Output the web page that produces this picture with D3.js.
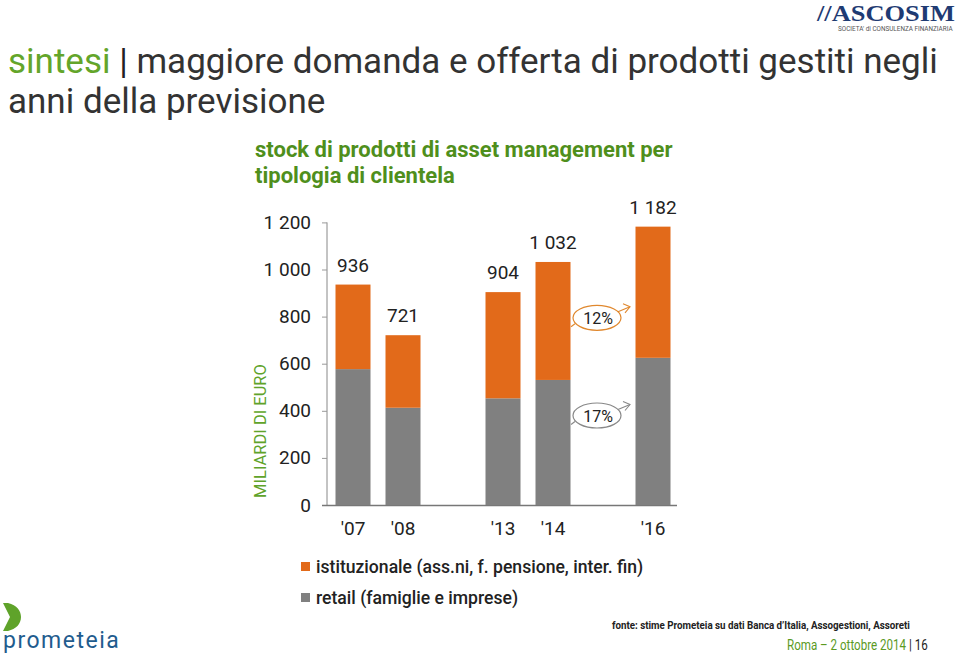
<!DOCTYPE html>
<html><head><meta charset="utf-8">
<script src="https://cdn.jsdelivr.net/npm/d3@7"></script>
<style>
html,body{margin:0;padding:0;background:#fff;}
svg{display:block;font-family:Roboto,"Noto Sans",sans-serif;}
</style></head>
<body>
<script>
// ---- data ----
const slots = ["'07","'08","gap1","'13","'14","gap2","'16"];
const categories = ["'07","'08","'13","'14","'16"];
const retail = [577, 413, 453, 531, 625];
const istituzionale = [359, 308, 451, 501, 557];
const totals = [936, 721, 904, 1032, 1182];
const totalLabels = ["936","721","904","1 032","1 182"];
const yTicks = [0,200,400,600,800,1000,1200];
const yTickLabels = ["0","200","400","600","800","1 000","1 200"];
const growth = [{label:"12%", series:"ist", at:795},{label:"17%", series:"ret", at:380}];
const seriesNames = ["istituzionale (ass.ni, f. pensione, inter. fin)","retail (famiglie e imprese)"];

const W=960,H=657;
const ORANGE="#e26a1a", GRAY="#808080", DARK="#222";
const svg=d3.select("body").append("svg").attr("width",W).attr("height",H);

// helper: horizontally condensed text via transform
function narrowText(parent,x0,y0,sx){
  return parent.append("g").attr("transform",`translate(${x0},${y0}) scale(${sx},1)`).append("text").attr("x",0).attr("y",0);
}

// ---- header ----
const t1=svg.append("text").attr("x",8).attr("y",73).attr("font-size",35).attr("fill","#333");
t1.append("tspan").attr("fill","#63a52a").text("sintesi");
t1.append("tspan").attr("fill","#222").text(" | ");
t1.append("tspan").text("maggiore domanda e offerta di prodotti gestiti negli");
svg.append("text").attr("x",8).attr("y",113).attr("font-size",35).attr("fill","#333").text("anni della previsione");
svg.append("text").attr("x",255).attr("y",157).attr("font-size",22).attr("font-weight",700).attr("fill","#4f8f1c").text("stock di prodotti di asset management per");
svg.append("text").attr("x",255).attr("y",183).attr("font-size",22).attr("font-weight",700).attr("fill","#4f8f1c").text("tipologia di clientela");

// ASCOSIM logo
narrowText(svg,817,21,1.1).attr("font-family","'Liberation Serif',serif").attr("font-weight",700).attr("font-size",24)
  .attr("fill","#1f3b73").text("//ASCOSIM");
narrowText(svg,838,31,0.98).attr("font-size",6.5).attr("fill","#555").text("SOCIETA' di CONSULENZA FINANZIARIA");

// ---- scales ----
const x=d3.scaleBand().domain(slots).range([328,678]).paddingInner(0.3).paddingOuter(0.15);
const y=d3.scaleLinear().domain([0,1200]).range([505,222.4]);

// y axis
const yAxis=d3.axisLeft(y).tickValues(yTicks).tickSize(5).tickPadding(11).tickFormat((d,i)=>yTickLabels[i]);
const ga=svg.append("g").attr("transform","translate(327,0)").call(yAxis);
ga.select(".domain").attr("stroke","#888").attr("d",`M0,${y(1200)}V${y(0)}`);
ga.selectAll(".tick line").attr("stroke","#999");
ga.selectAll(".tick text").attr("font-size",19).attr("fill",DARK).attr("font-family","Roboto,sans-serif");

// baseline
svg.append("line").attr("x1",322).attr("x2",677).attr("y1",y(0)+0.5).attr("y2",y(0)+0.5).attr("stroke","#777").attr("stroke-width",1.3);

// bars
const rows=categories.map((c,i)=>({c,ret:retail[i],ist:istituzionale[i],tot:totals[i],lab:totalLabels[i]}));
svg.append("g").selectAll("rect").data(rows).join("rect")
  .attr("x",d=>x(d.c)).attr("width",x.bandwidth())
  .attr("y",d=>y(d.ret)).attr("height",d=>y(0)-y(d.ret)).attr("fill",GRAY);
svg.append("g").selectAll("rect").data(rows).join("rect")
  .attr("x",d=>x(d.c)).attr("width",x.bandwidth())
  .attr("y",d=>y(d.tot)).attr("height",d=>y(d.ret)-y(d.tot)).attr("fill",ORANGE);
svg.append("g").selectAll("text").data(rows).join("text")
  .attr("x",d=>x(d.c)+x.bandwidth()/2).attr("y",d=>y(d.tot)-13)
  .attr("text-anchor","middle").attr("font-size",19).attr("fill",DARK).text(d=>d.lab);

// x labels
svg.append("g").selectAll("text").data(categories).join("text")
  .attr("x",d=>x(d)+x.bandwidth()/2).attr("y",535).attr("text-anchor","middle")
  .attr("font-size",19).attr("fill",DARK).text(d=>d);

// y title
svg.append("text").attr("transform",`translate(266,${431}) rotate(-90)`).attr("text-anchor","middle")
  .attr("font-size",16.5).attr("fill","#5fa32a").text("MILIARDI DI EURO");

// growth annotations
const gx=x("gap2")+x.bandwidth()/2-6;
growth.forEach(g=>{
  const col=g.series==="ist"?"#e0882e":"#888";
  const cy=y(g.at);
  const gg=svg.append("g");
  gg.append("ellipse").attr("cx",gx).attr("cy",cy).attr("rx",24).attr("ry",12.5).attr("fill","#fff").attr("stroke",col).attr("stroke-width",1.2);
  gg.append("path").attr("d",`M${gx+21},${cy-6} L${gx+33},${cy-11}`).attr("stroke",col).attr("fill","none").attr("stroke-width",1.1);
  gg.append("path").attr("d",`M${gx+26},${cy-14} L${gx+33},${cy-11} L${gx+28},${cy-5}`).attr("stroke",col).attr("fill","none").attr("stroke-width",1.1);
  gg.append("path").attr("d",`M${gx-22},${cy+6} L${gx-26},${cy+9}`).attr("stroke",col).attr("fill","none").attr("stroke-width",1.1);
  gg.append("text").attr("x",gx+1).attr("y",cy+6).attr("text-anchor","middle").attr("font-size",16).attr("fill",DARK).text(g.label);
});

// legend
const lg=svg.append("g");
[ORANGE,GRAY].forEach((c,i)=>{
  lg.append("rect").attr("x",301).attr("y",562+i*31).attr("width",9).attr("height",9).attr("fill",c);
  lg.append("text").attr("x",316).attr("y",573+i*31).attr("font-size",17.6).attr("font-weight",500).attr("fill",DARK).text(seriesNames[i]);
});

// footer
narrowText(svg,612,629,0.85).attr("font-size",11.5).attr("font-weight",700).attr("fill",DARK)
  .text("fonte: stime Prometeia su dati Banca d’Italia, Assogestioni, Assoreti");
const ft=narrowText(svg,787,650,0.8).attr("font-size",14.5).attr("fill","#5b9a1f");
ft.append("tspan").text("Roma – 2 ottobre 2014 ");
ft.append("tspan").attr("fill",DARK).text("| 16");

// prometeia logo
svg.append("path").attr("d","M3,603 L8,603 C17,605 21,611 21,617 C21,624 16,629 8,631 L3,631 L10,617 Z").attr("fill","#5fa32a");
svg.append("text").attr("x",3).attr("y",648).attr("font-size",23).attr("fill","#1f5c8e")
  .attr("letter-spacing",1.5).text("prometeia");
</script>
</body></html>
